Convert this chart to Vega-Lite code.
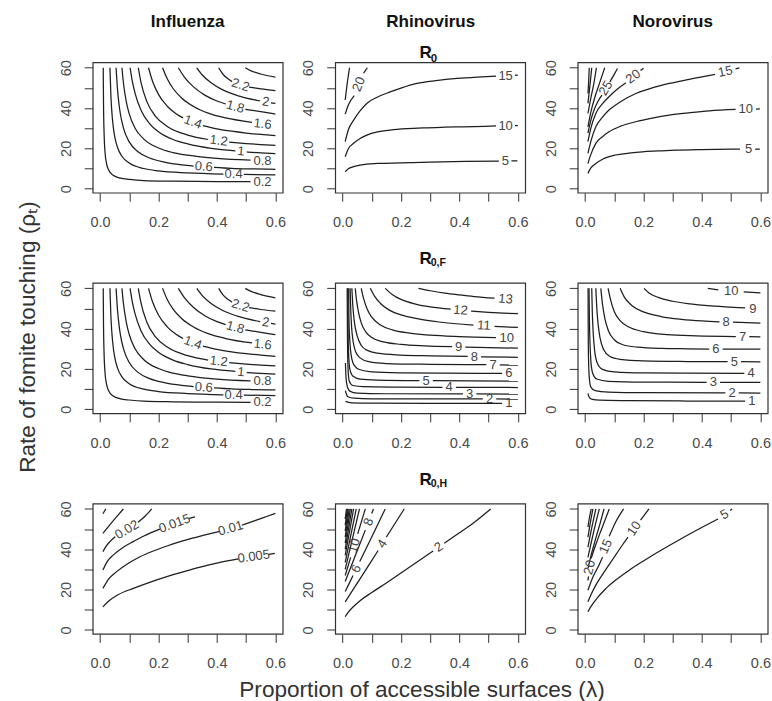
{
"$schema":"https://vega.github.io/schema/vega-lite/v6.json",
"autosize":{"type":"none"},
"padding":{"left":92.7,"top":62.3,"right":679.3,"bottom":638.7},
"background":"white",
"columns":3,
"spacing":{"row":89.6,"column":52.5},
"bounds":"flush",
"config":{
 "view":{"stroke":"#333","strokeWidth":1.2},
 "axis":{"grid":false,"domain":false,"ticks":true,"tickSize":8.5,"tickColor":"#333","tickWidth":1,"labelFont":"Liberation Sans","labelFontSize":14.5,"labelColor":"#4a4a4a","labelFlush":false,"labelOverlap":false,"titleFont":"Liberation Sans","titleFontSize":22.6,"titleFontWeight":"normal","titleColor":"#333"},
 "title":{"font":"Liberation Sans","fontSize":17,"fontWeight":"bold","anchor":"middle","frame":"group","color":"#111"},
 "text":{"font":"Liberation Sans"}
},
"datasets":{
"lines":[
{"p":"fl","s":"02","x":0.011,"y":60},{"p":"fl","s":"02","x":0.012,"y":42.3},{"p":"fl","s":"02","x":0.014,"y":27.2},{"p":"fl","s":"02","x":0.017,"y":18.4},{"p":"fl","s":"02","x":0.022,"y":12.7},{"p":"fl","s":"02","x":0.03,"y":9.1},{"p":"fl","s":"02","x":0.045,"y":6.6},{"p":"fl","s":"02","x":0.07,"y":5.2},{"p":"fl","s":"02","x":0.1,"y":4.6},{"p":"fl","s":"02","x":0.15,"y":4.0},{"p":"fl","s":"02","x":0.25,"y":3.7},{"p":"fl","s":"02","x":0.4,"y":3.5},{"p":"fl","s":"02","x":0.515,"y":3.45},
{"p":"fl","s":"04a","x":0.034,"y":60},{"p":"fl","s":"04a","x":0.037,"y":47},{"p":"fl","s":"04a","x":0.04,"y":39.1},{"p":"fl","s":"04a","x":0.045,"y":31},{"p":"fl","s":"04a","x":0.05,"y":26.1},{"p":"fl","s":"04a","x":0.06,"y":20.4},{"p":"fl","s":"04a","x":0.075,"y":16.1},{"p":"fl","s":"04a","x":0.1,"y":12.7},{"p":"fl","s":"04a","x":0.15,"y":10},{"p":"fl","s":"04a","x":0.2,"y":8.8},{"p":"fl","s":"04a","x":0.3,"y":7.8},{"p":"fl","s":"04a","x":0.422,"y":7.2},
{"p":"fl","s":"04b","x":0.492,"y":7.05},{"p":"fl","s":"04b","x":0.6,"y":6.8},
{"p":"fl","s":"06a","x":0.055,"y":60},{"p":"fl","s":"06a","x":0.06,"y":49},{"p":"fl","s":"06a","x":0.065,"y":41.9},{"p":"fl","s":"06a","x":0.07,"y":36.8},{"p":"fl","s":"06a","x":0.08,"y":30.2},{"p":"fl","s":"06a","x":0.1,"y":23.2},{"p":"fl","s":"06a","x":0.13,"y":18.3},{"p":"fl","s":"06a","x":0.17,"y":15.2},{"p":"fl","s":"06a","x":0.22,"y":13.2},{"p":"fl","s":"06a","x":0.28,"y":11.8},{"p":"fl","s":"06a","x":0.32,"y":11.2},
{"p":"fl","s":"06b","x":0.39,"y":10.6},{"p":"fl","s":"06b","x":0.45,"y":10.1},{"p":"fl","s":"06b","x":0.52,"y":9.8},{"p":"fl","s":"06b","x":0.6,"y":9.6},
{"p":"fl","s":"08","x":0.075,"y":60},{"p":"fl","s":"08","x":0.08,"y":52.7},{"p":"fl","s":"08","x":0.09,"y":43.1},{"p":"fl","s":"08","x":0.1,"y":37.1},{"p":"fl","s":"08","x":0.12,"y":30},{"p":"fl","s":"08","x":0.15,"y":24.6},{"p":"fl","s":"08","x":0.2,"y":20.2},{"p":"fl","s":"08","x":0.25,"y":17.9},{"p":"fl","s":"08","x":0.3,"y":16.6},{"p":"fl","s":"08","x":0.4,"y":15},{"p":"fl","s":"08","x":0.515,"y":14.1},
{"p":"fl","s":"10a","x":0.103,"y":60},{"p":"fl","s":"10a","x":0.11,"y":53.7},{"p":"fl","s":"10a","x":0.12,"y":47.3},{"p":"fl","s":"10a","x":0.14,"y":39},{"p":"fl","s":"10a","x":0.17,"y":32.2},{"p":"fl","s":"10a","x":0.2,"y":28.3},{"p":"fl","s":"10a","x":0.25,"y":24.4},{"p":"fl","s":"10a","x":0.3,"y":22.2},{"p":"fl","s":"10a","x":0.38,"y":20},{"p":"fl","s":"10a","x":0.463,"y":18.8},
{"p":"fl","s":"10b","x":0.502,"y":18.2},{"p":"fl","s":"10b","x":0.55,"y":17.8},{"p":"fl","s":"10b","x":0.6,"y":17.4},
{"p":"fl","s":"12a","x":0.131,"y":60},{"p":"fl","s":"12a","x":0.14,"y":52.9},{"p":"fl","s":"12a","x":0.16,"y":43.3},{"p":"fl","s":"12a","x":0.19,"y":35.9},{"p":"fl","s":"12a","x":0.23,"y":30.9},{"p":"fl","s":"12a","x":0.3,"y":26.6},{"p":"fl","s":"12a","x":0.37,"y":24.4},
{"p":"fl","s":"12b","x":0.442,"y":23.1},{"p":"fl","s":"12b","x":0.5,"y":22.4},{"p":"fl","s":"12b","x":0.55,"y":21.9},{"p":"fl","s":"12b","x":0.6,"y":21.5},
{"p":"fl","s":"14a","x":0.166,"y":60},{"p":"fl","s":"14a","x":0.18,"y":53.2},{"p":"fl","s":"14a","x":0.2,"y":46.8},{"p":"fl","s":"14a","x":0.23,"y":40.9},{"p":"fl","s":"14a","x":0.26,"y":37.2},{"p":"fl","s":"14a","x":0.284,"y":35.1},
{"p":"fl","s":"14b","x":0.352,"y":31.3},{"p":"fl","s":"14b","x":0.4,"y":29.7},{"p":"fl","s":"14b","x":0.45,"y":28.5},{"p":"fl","s":"14b","x":0.5,"y":27.6},{"p":"fl","s":"14b","x":0.55,"y":26.9},{"p":"fl","s":"14b","x":0.6,"y":26.3},
{"p":"fl","s":"16","x":0.214,"y":60},{"p":"fl","s":"16","x":0.23,"y":54.5},{"p":"fl","s":"16","x":0.25,"y":49.7},{"p":"fl","s":"16","x":0.28,"y":44.9},{"p":"fl","s":"16","x":0.32,"y":40.8},{"p":"fl","s":"16","x":0.37,"y":37.5},{"p":"fl","s":"16","x":0.43,"y":35.1},{"p":"fl","s":"16","x":0.52,"y":32.9},
{"p":"fl","s":"18a","x":0.268,"y":60},{"p":"fl","s":"18a","x":0.29,"y":55.1},{"p":"fl","s":"18a","x":0.32,"y":50.5},{"p":"fl","s":"18a","x":0.36,"y":46.3},{"p":"fl","s":"18a","x":0.4,"y":43.5},{"p":"fl","s":"18a","x":0.43,"y":42},
{"p":"fl","s":"18b","x":0.497,"y":39.4},{"p":"fl","s":"18b","x":0.55,"y":38.2},{"p":"fl","s":"18b","x":0.6,"y":37},
{"p":"fl","s":"20a","x":0.331,"y":60},{"p":"fl","s":"20a","x":0.35,"y":56.4},{"p":"fl","s":"20a","x":0.38,"y":52.5},{"p":"fl","s":"20a","x":0.42,"y":49},{"p":"fl","s":"20a","x":0.47,"y":46.2},{"p":"fl","s":"20a","x":0.548,"y":43.5},
{"p":"fl","s":"20b","x":0.585,"y":42.6},{"p":"fl","s":"20b","x":0.6,"y":42.3},
{"p":"fl","s":"22a","x":0.406,"y":60},{"p":"fl","s":"22a","x":0.42,"y":56.9},{"p":"fl","s":"22a","x":0.44,"y":54.3},{"p":"fl","s":"22a","x":0.452,"y":53.1},
{"p":"fl","s":"22b","x":0.51,"y":50.4},{"p":"fl","s":"22b","x":0.55,"y":49.5},{"p":"fl","s":"22b","x":0.6,"y":48.7},
{"p":"fl","s":"24","x":0.497,"y":60},{"p":"fl","s":"24","x":0.515,"y":58.6},{"p":"fl","s":"24","x":0.55,"y":56.9},{"p":"fl","s":"24","x":0.6,"y":55.3},

{"p":"rh0","s":"5a","x":0.0092,"y":8.4},{"p":"rh0","s":"5a","x":0.02,"y":9.9},{"p":"rh0","s":"5a","x":0.038,"y":10.9},{"p":"rh0","s":"5a","x":0.06,"y":11.7},{"p":"rh0","s":"5a","x":0.083,"y":12.2},{"p":"rh0","s":"5a","x":0.12,"y":12.5},{"p":"rh0","s":"5a","x":0.198,"y":12.8},{"p":"rh0","s":"5a","x":0.3,"y":13.2},{"p":"rh0","s":"5a","x":0.42,"y":13.5},{"p":"rh0","s":"5a","x":0.535,"y":13.7},
{"p":"rh0","s":"5b","x":0.578,"y":13.8},{"p":"rh0","s":"5b","x":0.598,"y":13.8},
{"p":"rh0","s":"10a","x":0.0092,"y":15.8},{"p":"rh0","s":"10a","x":0.02,"y":19.8},{"p":"rh0","s":"10a","x":0.038,"y":22.5},{"p":"rh0","s":"10a","x":0.06,"y":24.9},{"p":"rh0","s":"10a","x":0.083,"y":26.6},{"p":"rh0","s":"10a","x":0.12,"y":28.2},{"p":"rh0","s":"10a","x":0.163,"y":29.1},{"p":"rh0","s":"10a","x":0.22,"y":29.8},{"p":"rh0","s":"10a","x":0.277,"y":30.2},{"p":"rh0","s":"10a","x":0.35,"y":30.5},{"p":"rh0","s":"10a","x":0.414,"y":30.7},{"p":"rh0","s":"10a","x":0.525,"y":31.1},
{"p":"rh0","s":"10b","x":0.59,"y":31.3},{"p":"rh0","s":"10b","x":0.6,"y":31.3},
{"p":"rh0","s":"15a","x":0.0092,"y":23.3},{"p":"rh0","s":"15a","x":0.02,"y":29.2},{"p":"rh0","s":"15a","x":0.038,"y":34},{"p":"rh0","s":"15a","x":0.06,"y":38.6},{"p":"rh0","s":"15a","x":0.083,"y":42.3},{"p":"rh0","s":"15a","x":0.12,"y":45.5},{"p":"rh0","s":"15a","x":0.163,"y":48},{"p":"rh0","s":"15a","x":0.2,"y":49.9},{"p":"rh0","s":"15a","x":0.255,"y":52.2},{"p":"rh0","s":"15a","x":0.32,"y":53.6},{"p":"rh0","s":"15a","x":0.392,"y":54.7},{"p":"rh0","s":"15a","x":0.46,"y":55.4},{"p":"rh0","s":"15a","x":0.525,"y":55.9},
{"p":"rh0","s":"15b","x":0.59,"y":56.3},{"p":"rh0","s":"15b","x":0.6,"y":56.3},
{"p":"rh0","s":"20a","x":0.0092,"y":37},{"p":"rh0","s":"20a","x":0.02,"y":41.5},{"p":"rh0","s":"20a","x":0.04,"y":46.2},
{"p":"rh0","s":"20b","x":0.072,"y":57.3},{"p":"rh0","s":"20b","x":0.085,"y":60},
{"p":"rh0","s":"25","x":0.0092,"y":44},{"p":"rh0","s":"25","x":0.015,"y":51},{"p":"rh0","s":"25","x":0.024,"y":60},

{"p":"no0","s":"5a","x":0.01,"y":7.6},{"p":"no0","s":"5a","x":0.02,"y":10.3},{"p":"no0","s":"5a","x":0.037,"y":12.5},{"p":"no0","s":"5a","x":0.06,"y":14.6},{"p":"no0","s":"5a","x":0.105,"y":16.7},{"p":"no0","s":"5a","x":0.15,"y":17.6},{"p":"no0","s":"5a","x":0.196,"y":18.3},{"p":"no0","s":"5a","x":0.25,"y":18.7},{"p":"no0","s":"5a","x":0.31,"y":19.1},{"p":"no0","s":"5a","x":0.4,"y":19.4},{"p":"no0","s":"5a","x":0.53,"y":19.6},
{"p":"no0","s":"5b","x":0.582,"y":19.6},{"p":"no0","s":"5b","x":0.598,"y":19.6},
{"p":"no0","s":"10a","x":0.01,"y":12.5},{"p":"no0","s":"10a","x":0.02,"y":17},{"p":"no0","s":"10a","x":0.037,"y":22.5},{"p":"no0","s":"10a","x":0.06,"y":25.8},{"p":"no0","s":"10a","x":0.082,"y":28.2},{"p":"no0","s":"10a","x":0.12,"y":30.9},{"p":"no0","s":"10a","x":0.174,"y":33.2},{"p":"no0","s":"10a","x":0.23,"y":35},{"p":"no0","s":"10a","x":0.288,"y":36.5},{"p":"no0","s":"10a","x":0.36,"y":37.7},{"p":"no0","s":"10a","x":0.425,"y":38.6},{"p":"no0","s":"10a","x":0.515,"y":39.3},
{"p":"no0","s":"10b","x":0.585,"y":39.5},{"p":"no0","s":"10b","x":0.598,"y":39.6},
{"p":"no0","s":"15a","x":0.01,"y":17.5},{"p":"no0","s":"15a","x":0.02,"y":23.5},{"p":"no0","s":"15a","x":0.037,"y":30.7},{"p":"no0","s":"15a","x":0.06,"y":35.5},{"p":"no0","s":"15a","x":0.082,"y":39},{"p":"no0","s":"15a","x":0.12,"y":43},{"p":"no0","s":"15a","x":0.174,"y":47.2},{"p":"no0","s":"15a","x":0.23,"y":50},{"p":"no0","s":"15a","x":0.288,"y":52.2},{"p":"no0","s":"15a","x":0.36,"y":54.4},{"p":"no0","s":"15a","x":0.445,"y":56.7},
{"p":"no0","s":"15b","x":0.515,"y":59.4},{"p":"no0","s":"15b","x":0.528,"y":59.9},
{"p":"no0","s":"20a","x":0.01,"y":23.3},{"p":"no0","s":"20a","x":0.02,"y":30},{"p":"no0","s":"20a","x":0.037,"y":37.3},{"p":"no0","s":"20a","x":0.06,"y":42.2},{"p":"no0","s":"20a","x":0.082,"y":45.6},{"p":"no0","s":"20a","x":0.11,"y":49.3},{"p":"no0","s":"20a","x":0.14,"y":52.5},
{"p":"no0","s":"20b","x":0.19,"y":58.6},{"p":"no0","s":"20b","x":0.2,"y":59.8},
{"p":"no0","s":"25a","x":0.01,"y":27.6},{"p":"no0","s":"25a","x":0.02,"y":34},{"p":"no0","s":"25a","x":0.031,"y":39},{"p":"no0","s":"25a","x":0.045,"y":43.5},{"p":"no0","s":"25a","x":0.058,"y":46.4},
{"p":"no0","s":"25b","x":0.085,"y":53},{"p":"no0","s":"25b","x":0.1,"y":56.7},{"p":"no0","s":"25b","x":0.111,"y":59.6},
{"p":"no0","s":"30","x":0.01,"y":30.7},{"p":"no0","s":"30","x":0.02,"y":38},{"p":"no0","s":"30","x":0.035,"y":46},{"p":"no0","s":"30","x":0.05,"y":52.5},{"p":"no0","s":"30","x":0.0675,"y":60},
{"p":"no0","s":"35","x":0.01,"y":37.3},{"p":"no0","s":"35","x":0.02,"y":45},{"p":"no0","s":"35","x":0.03,"y":52},{"p":"no0","s":"35","x":0.039,"y":60},
{"p":"no0","s":"40","x":0.01,"y":42.3},{"p":"no0","s":"40","x":0.016,"y":50},{"p":"no0","s":"40","x":0.023,"y":60},
{"p":"no0","s":"45","x":0.01,"y":47.2},{"p":"no0","s":"45","x":0.0125,"y":53},{"p":"no0","s":"45","x":0.0145,"y":60},

{"p":"rhF","s":"13","x":0.26,"y":60},{"p":"rhF","s":"13","x":0.3,"y":58.8},{"p":"rhF","s":"13","x":0.35,"y":57.6},{"p":"rhF","s":"13","x":0.4,"y":56.7},{"p":"rhF","s":"13","x":0.45,"y":55.9},{"p":"rhF","s":"13","x":0.52,"y":55.1},
{"p":"rhF","s":"12a","x":0.146,"y":60},{"p":"rhF","s":"12a","x":0.17,"y":57},{"p":"rhF","s":"12a","x":0.2,"y":54.5},{"p":"rhF","s":"12a","x":0.25,"y":52.2},{"p":"rhF","s":"12a","x":0.3,"y":50.8},{"p":"rhF","s":"12a","x":0.37,"y":49.7},
{"p":"rhF","s":"12b","x":0.44,"y":48.7},{"p":"rhF","s":"12b","x":0.5,"y":48.1},{"p":"rhF","s":"12b","x":0.55,"y":47.7},{"p":"rhF","s":"12b","x":0.6,"y":47.4},
{"p":"rhF","s":"11a","x":0.095,"y":60},{"p":"rhF","s":"11a","x":0.11,"y":56},{"p":"rhF","s":"11a","x":0.13,"y":52.5},{"p":"rhF","s":"11a","x":0.16,"y":49.2},{"p":"rhF","s":"11a","x":0.2,"y":46.8},{"p":"rhF","s":"11a","x":0.26,"y":44.8},{"p":"rhF","s":"11a","x":0.33,"y":43.3},{"p":"rhF","s":"11a","x":0.448,"y":41.8},
{"p":"rhF","s":"11b","x":0.52,"y":41.1},{"p":"rhF","s":"11b","x":0.6,"y":40.6},
{"p":"rhF","s":"10","x":0.064,"y":60},{"p":"rhF","s":"10","x":0.072,"y":55},{"p":"rhF","s":"10","x":0.085,"y":49.5},{"p":"rhF","s":"10","x":0.1,"y":45.7},{"p":"rhF","s":"10","x":0.13,"y":41.8},{"p":"rhF","s":"10","x":0.17,"y":39.4},{"p":"rhF","s":"10","x":0.23,"y":37.8},{"p":"rhF","s":"10","x":0.3,"y":36.8},{"p":"rhF","s":"10","x":0.4,"y":36.1},{"p":"rhF","s":"10","x":0.525,"y":35.6},
{"p":"rhF","s":"9a","x":0.0435,"y":60},{"p":"rhF","s":"9a","x":0.048,"y":54},{"p":"rhF","s":"9a","x":0.055,"y":48},{"p":"rhF","s":"9a","x":0.065,"y":42.5},{"p":"rhF","s":"9a","x":0.08,"y":38.3},{"p":"rhF","s":"9a","x":0.1,"y":35.6},{"p":"rhF","s":"9a","x":0.14,"y":33.4},{"p":"rhF","s":"9a","x":0.2,"y":32.2},{"p":"rhF","s":"9a","x":0.28,"y":31.5},{"p":"rhF","s":"9a","x":0.375,"y":31.1},
{"p":"rhF","s":"9b","x":0.42,"y":30.9},{"p":"rhF","s":"9b","x":0.5,"y":30.6},{"p":"rhF","s":"9b","x":0.6,"y":30.3},
{"p":"rhF","s":"8a","x":0.032,"y":60},{"p":"rhF","s":"8a","x":0.035,"y":52},{"p":"rhF","s":"8a","x":0.04,"y":44},{"p":"rhF","s":"8a","x":0.05,"y":36.5},{"p":"rhF","s":"8a","x":0.065,"y":31.5},{"p":"rhF","s":"8a","x":0.085,"y":29.2},{"p":"rhF","s":"8a","x":0.12,"y":27.8},{"p":"rhF","s":"8a","x":0.2,"y":26.9},{"p":"rhF","s":"8a","x":0.3,"y":26.5},{"p":"rhF","s":"8a","x":0.428,"y":26.2},
{"p":"rhF","s":"8b","x":0.474,"y":26},{"p":"rhF","s":"8b","x":0.6,"y":25.8},
{"p":"rhF","s":"7a","x":0.026,"y":60},{"p":"rhF","s":"7a","x":0.028,"y":50},{"p":"rhF","s":"7a","x":0.031,"y":41},{"p":"rhF","s":"7a","x":0.036,"y":34},{"p":"rhF","s":"7a","x":0.045,"y":28.5},{"p":"rhF","s":"7a","x":0.06,"y":25.5},{"p":"rhF","s":"7a","x":0.09,"y":23.6},{"p":"rhF","s":"7a","x":0.15,"y":22.7},{"p":"rhF","s":"7a","x":0.3,"y":22.3},{"p":"rhF","s":"7a","x":0.492,"y":22.1},
{"p":"rhF","s":"7b","x":0.538,"y":22},{"p":"rhF","s":"7b","x":0.6,"y":21.9},
{"p":"rhF","s":"6","x":0.021,"y":60},{"p":"rhF","s":"6","x":0.022,"y":45},{"p":"rhF","s":"6","x":0.025,"y":34},{"p":"rhF","s":"6","x":0.03,"y":26.5},{"p":"rhF","s":"6","x":0.04,"y":21.8},{"p":"rhF","s":"6","x":0.06,"y":19.6},{"p":"rhF","s":"6","x":0.1,"y":18.6},{"p":"rhF","s":"6","x":0.2,"y":18.1},{"p":"rhF","s":"6","x":0.35,"y":17.9},{"p":"rhF","s":"6","x":0.546,"y":17.8},
{"p":"rhF","s":"5a","x":0.018,"y":60},{"p":"rhF","s":"5a","x":0.019,"y":40},{"p":"rhF","s":"5a","x":0.021,"y":27},{"p":"rhF","s":"5a","x":0.025,"y":20},{"p":"rhF","s":"5a","x":0.035,"y":16.5},{"p":"rhF","s":"5a","x":0.06,"y":15},{"p":"rhF","s":"5a","x":0.12,"y":14.5},{"p":"rhF","s":"5a","x":0.263,"y":14.2},
{"p":"rhF","s":"5b","x":0.309,"y":14.2},{"p":"rhF","s":"5b","x":0.6,"y":14},
{"p":"rhF","s":"4a","x":0.016,"y":60},{"p":"rhF","s":"4a","x":0.017,"y":35},{"p":"rhF","s":"4a","x":0.019,"y":20},{"p":"rhF","s":"4a","x":0.023,"y":14},{"p":"rhF","s":"4a","x":0.035,"y":11.8},{"p":"rhF","s":"4a","x":0.07,"y":11.2},{"p":"rhF","s":"4a","x":0.2,"y":11},{"p":"rhF","s":"4a","x":0.342,"y":10.9},
{"p":"rhF","s":"4b","x":0.388,"y":10.9},{"p":"rhF","s":"4b","x":0.6,"y":10.8},
{"p":"rhF","s":"3a","x":0.01,"y":23},{"p":"rhF","s":"3a","x":0.012,"y":16},{"p":"rhF","s":"3a","x":0.016,"y":11.5},{"p":"rhF","s":"3a","x":0.025,"y":9},{"p":"rhF","s":"3a","x":0.05,"y":8},{"p":"rhF","s":"3a","x":0.15,"y":7.7},{"p":"rhF","s":"3a","x":0.412,"y":7.6},
{"p":"rhF","s":"3b","x":0.458,"y":7.6},{"p":"rhF","s":"3b","x":0.6,"y":7.5},
{"p":"rhF","s":"2a","x":0.01,"y":9.3},{"p":"rhF","s":"2a","x":0.014,"y":7.2},{"p":"rhF","s":"2a","x":0.02,"y":6.1},{"p":"rhF","s":"2a","x":0.04,"y":5.5},{"p":"rhF","s":"2a","x":0.1,"y":5.2},{"p":"rhF","s":"2a","x":0.3,"y":5.1},{"p":"rhF","s":"2a","x":0.48,"y":5.1},
{"p":"rhF","s":"2b","x":0.526,"y":5.1},{"p":"rhF","s":"2b","x":0.6,"y":5},
{"p":"rhF","s":"1","x":0.01,"y":3.9},{"p":"rhF","s":"1","x":0.03,"y":3.2},{"p":"rhF","s":"1","x":0.1,"y":3},{"p":"rhF","s":"1","x":0.3,"y":2.95},{"p":"rhF","s":"1","x":0.546,"y":2.9},

{"p":"noF","s":"10a","x":0.42,"y":60},{"p":"noF","s":"10a","x":0.456,"y":59.2},
{"p":"noF","s":"10b","x":0.543,"y":58.3},{"p":"noF","s":"10b","x":0.6,"y":57.8},
{"p":"noF","s":"9","x":0.202,"y":60},{"p":"noF","s":"9","x":0.22,"y":57.6},{"p":"noF","s":"9","x":0.25,"y":55.5},{"p":"noF","s":"9","x":0.3,"y":53.6},{"p":"noF","s":"9","x":0.36,"y":52.3},{"p":"noF","s":"9","x":0.42,"y":51.4},{"p":"noF","s":"9","x":0.48,"y":50.8},{"p":"noF","s":"9","x":0.548,"y":50.3},
{"p":"noF","s":"8a","x":0.12,"y":60},{"p":"noF","s":"8a","x":0.135,"y":55.5},{"p":"noF","s":"8a","x":0.16,"y":51.5},{"p":"noF","s":"8a","x":0.2,"y":48.3},{"p":"noF","s":"8a","x":0.26,"y":46},{"p":"noF","s":"8a","x":0.33,"y":44.6},{"p":"noF","s":"8a","x":0.4,"y":43.8},{"p":"noF","s":"8a","x":0.46,"y":43.4},
{"p":"noF","s":"8b","x":0.506,"y":43.2},{"p":"noF","s":"8b","x":0.6,"y":42.8},
{"p":"noF","s":"7a","x":0.079,"y":60},{"p":"noF","s":"7a","x":0.088,"y":54},{"p":"noF","s":"7a","x":0.1,"y":48.5},{"p":"noF","s":"7a","x":0.12,"y":44},{"p":"noF","s":"7a","x":0.15,"y":40.8},{"p":"noF","s":"7a","x":0.2,"y":38.5},{"p":"noF","s":"7a","x":0.28,"y":37},{"p":"noF","s":"7a","x":0.38,"y":36.4},{"p":"noF","s":"7a","x":0.516,"y":36.1},
{"p":"noF","s":"7b","x":0.562,"y":36},{"p":"noF","s":"7b","x":0.6,"y":35.9},
{"p":"noF","s":"6a","x":0.054,"y":60},{"p":"noF","s":"6a","x":0.06,"y":52},{"p":"noF","s":"6a","x":0.068,"y":45},{"p":"noF","s":"6a","x":0.08,"y":39},{"p":"noF","s":"6a","x":0.1,"y":34.5},{"p":"noF","s":"6a","x":0.13,"y":32},{"p":"noF","s":"6a","x":0.18,"y":30.8},{"p":"noF","s":"6a","x":0.26,"y":30.2},{"p":"noF","s":"6a","x":0.35,"y":30},{"p":"noF","s":"6a","x":0.425,"y":29.9},
{"p":"noF","s":"6b","x":0.471,"y":29.9},{"p":"noF","s":"6b","x":0.6,"y":29.8},
{"p":"noF","s":"5a","x":0.037,"y":60},{"p":"noF","s":"5a","x":0.04,"y":51},{"p":"noF","s":"5a","x":0.045,"y":42},{"p":"noF","s":"5a","x":0.052,"y":35},{"p":"noF","s":"5a","x":0.064,"y":29.5},{"p":"noF","s":"5a","x":0.085,"y":26.2},{"p":"noF","s":"5a","x":0.12,"y":24.8},{"p":"noF","s":"5a","x":0.2,"y":24},{"p":"noF","s":"5a","x":0.35,"y":23.7},{"p":"noF","s":"5a","x":0.488,"y":23.6},
{"p":"noF","s":"5b","x":0.534,"y":23.6},{"p":"noF","s":"5b","x":0.6,"y":23.5},
{"p":"noF","s":"4","x":0.023,"y":60},{"p":"noF","s":"4","x":0.025,"y":48},{"p":"noF","s":"4","x":0.028,"y":38},{"p":"noF","s":"4","x":0.033,"y":29},{"p":"noF","s":"4","x":0.042,"y":23},{"p":"noF","s":"4","x":0.06,"y":19.8},{"p":"noF","s":"4","x":0.1,"y":18.5},{"p":"noF","s":"4","x":0.2,"y":18},{"p":"noF","s":"4","x":0.35,"y":17.9},{"p":"noF","s":"4","x":0.545,"y":17.8},
{"p":"noF","s":"3a","x":0.0137,"y":60},{"p":"noF","s":"3a","x":0.015,"y":45},{"p":"noF","s":"3a","x":0.017,"y":33},{"p":"noF","s":"3a","x":0.02,"y":24},{"p":"noF","s":"3a","x":0.026,"y":18},{"p":"noF","s":"3a","x":0.04,"y":15},{"p":"noF","s":"3a","x":0.08,"y":13.9},{"p":"noF","s":"3a","x":0.2,"y":13.5},{"p":"noF","s":"3a","x":0.416,"y":13.4},
{"p":"noF","s":"3b","x":0.462,"y":13.4},{"p":"noF","s":"3b","x":0.6,"y":13.3},
{"p":"noF","s":"2a","x":0.0105,"y":60},{"p":"noF","s":"2a","x":0.011,"y":40},{"p":"noF","s":"2a","x":0.012,"y":25},{"p":"noF","s":"2a","x":0.015,"y":15},{"p":"noF","s":"2a","x":0.02,"y":11},{"p":"noF","s":"2a","x":0.035,"y":9.2},{"p":"noF","s":"2a","x":0.08,"y":8.5},{"p":"noF","s":"2a","x":0.2,"y":8.2},{"p":"noF","s":"2a","x":0.48,"y":8.1},
{"p":"noF","s":"2b","x":0.526,"y":8.1},{"p":"noF","s":"2b","x":0.6,"y":8},
{"p":"noF","s":"1","x":0.01,"y":7.9},{"p":"noF","s":"1","x":0.015,"y":5.8},{"p":"noF","s":"1","x":0.025,"y":4.9},{"p":"noF","s":"1","x":0.05,"y":4.5},{"p":"noF","s":"1","x":0.15,"y":4.3},{"p":"noF","s":"1","x":0.35,"y":4.1},{"p":"noF","s":"1","x":0.548,"y":4.0},

{"p":"flH","s":"005a","x":0.01,"y":11.4},{"p":"flH","s":"005a","x":0.03,"y":14.3},{"p":"flH","s":"005a","x":0.06,"y":17.3},{"p":"flH","s":"005a","x":0.114,"y":20.6},{"p":"flH","s":"005a","x":0.17,"y":23.6},{"p":"flH","s":"005a","x":0.229,"y":26.4},{"p":"flH","s":"005a","x":0.29,"y":29},{"p":"flH","s":"005a","x":0.343,"y":31.1},{"p":"flH","s":"005a","x":0.4,"y":33.1},{"p":"flH","s":"005a","x":0.474,"y":35.2},
{"p":"flH","s":"005b","x":0.578,"y":37.5},{"p":"flH","s":"005b","x":0.598,"y":37.9},
{"p":"flH","s":"01a","x":0.01,"y":20.6},{"p":"flH","s":"01a","x":0.03,"y":25.3},{"p":"flH","s":"01a","x":0.057,"y":28.9},{"p":"flH","s":"01a","x":0.1,"y":33.3},{"p":"flH","s":"01a","x":0.137,"y":36.3},{"p":"flH","s":"01a","x":0.18,"y":39},{"p":"flH","s":"01a","x":0.229,"y":41.6},{"p":"flH","s":"01a","x":0.28,"y":44},{"p":"flH","s":"01a","x":0.32,"y":45.6},{"p":"flH","s":"01a","x":0.38,"y":47.9},{"p":"flH","s":"01a","x":0.41,"y":48.9},
{"p":"flH","s":"01b","x":0.485,"y":51.9},{"p":"flH","s":"01b","x":0.53,"y":54.2},{"p":"flH","s":"01b","x":0.565,"y":56},{"p":"flH","s":"01b","x":0.6,"y":57.8},
{"p":"flH","s":"015a","x":0.01,"y":29.7},{"p":"flH","s":"015a","x":0.025,"y":34},{"p":"flH","s":"015a","x":0.046,"y":37.2},{"p":"flH","s":"015a","x":0.08,"y":41},{"p":"flH","s":"015a","x":0.114,"y":43.8},{"p":"flH","s":"015a","x":0.15,"y":46.6},{"p":"flH","s":"015a","x":0.205,"y":50},
{"p":"flH","s":"015b","x":0.305,"y":55.3},{"p":"flH","s":"015b","x":0.325,"y":56.1},
{"p":"flH","s":"02a","x":0.01,"y":38.8},{"p":"flH","s":"02a","x":0.02,"y":41.3},{"p":"flH","s":"02a","x":0.034,"y":43.8},{"p":"flH","s":"02a","x":0.052,"y":46.2},
{"p":"flH","s":"02b","x":0.13,"y":53.4},{"p":"flH","s":"02b","x":0.155,"y":56.5},{"p":"flH","s":"02b","x":0.177,"y":60},
{"p":"flH","s":"025","x":0.01,"y":47.9},{"p":"flH","s":"025","x":0.03,"y":51.5},{"p":"flH","s":"025","x":0.055,"y":55.8},{"p":"flH","s":"025","x":0.08,"y":60},
{"p":"flH","s":"03","x":0.01,"y":57.6},{"p":"flH","s":"03","x":0.02,"y":60},

{"p":"rhH","s":"2a","x":0.0092,"y":6.5},{"p":"rhH","s":"2a","x":0.02,"y":8.8},{"p":"rhH","s":"2a","x":0.035,"y":11.2},{"p":"rhH","s":"2a","x":0.06,"y":14.5},{"p":"rhH","s":"2a","x":0.1,"y":18.5},{"p":"rhH","s":"2a","x":0.15,"y":23.3},{"p":"rhH","s":"2a","x":0.2,"y":28.2},{"p":"rhH","s":"2a","x":0.25,"y":33.2},{"p":"rhH","s":"2a","x":0.31,"y":39.1},
{"p":"rhH","s":"2b","x":0.348,"y":43},{"p":"rhH","s":"2b","x":0.4,"y":48.2},{"p":"rhH","s":"2b","x":0.45,"y":53.3},{"p":"rhH","s":"2b","x":0.507,"y":60},
{"p":"rhH","s":"4a","x":0.0092,"y":13.9},{"p":"rhH","s":"4a","x":0.03,"y":18.6},{"p":"rhH","s":"4a","x":0.06,"y":25.3},{"p":"rhH","s":"4a","x":0.09,"y":32.1},{"p":"rhH","s":"4a","x":0.122,"y":39.4},
{"p":"rhH","s":"4b","x":0.15,"y":46},{"p":"rhH","s":"4b","x":0.18,"y":52.9},{"p":"rhH","s":"4b","x":0.211,"y":60},
{"p":"rhH","s":"6a","x":0.0092,"y":19},{"p":"rhH","s":"6a","x":0.02,"y":22.2},{"p":"rhH","s":"6a","x":0.036,"y":27},
{"p":"rhH","s":"6b","x":0.059,"y":33.9},{"p":"rhH","s":"6b","x":0.1,"y":46.1},{"p":"rhH","s":"6b","x":0.146,"y":60},
{"p":"rhH","s":"8a","x":0.0092,"y":24},{"p":"rhH","s":"8a","x":0.04,"y":35.4},{"p":"rhH","s":"8a","x":0.078,"y":49.5},
{"p":"rhH","s":"8b","x":0.1,"y":57.7},{"p":"rhH","s":"8b","x":0.106,"y":60},
{"p":"rhH","s":"10a","x":0.0092,"y":27},{"p":"rhH","s":"10a","x":0.028,"y":36},
{"p":"rhH","s":"10b","x":0.052,"y":47.6},{"p":"rhH","s":"10b","x":0.078,"y":60},
{"p":"rhH","s":"12","x":0.0092,"y":30},{"p":"rhH","s":"12","x":0.058,"y":60},
{"p":"rhH","s":"14","x":0.0092,"y":33.5},{"p":"rhH","s":"14","x":0.047,"y":60},
{"p":"rhH","s":"16","x":0.0092,"y":37},{"p":"rhH","s":"16","x":0.038,"y":60},
{"p":"rhH","s":"18","x":0.0092,"y":40},{"p":"rhH","s":"18","x":0.032,"y":60},
{"p":"rhH","s":"20","x":0.0092,"y":43},{"p":"rhH","s":"20","x":0.027,"y":60},
{"p":"rhH","s":"22","x":0.0092,"y":46},{"p":"rhH","s":"22","x":0.023,"y":60},
{"p":"rhH","s":"24","x":0.0092,"y":49},{"p":"rhH","s":"24","x":0.0195,"y":60},
{"p":"rhH","s":"26","x":0.0092,"y":52},{"p":"rhH","s":"26","x":0.0165,"y":60},
{"p":"rhH","s":"28","x":0.0092,"y":55},{"p":"rhH","s":"28","x":0.0135,"y":60},

{"p":"noH","s":"5a","x":0.01,"y":9},{"p":"noH","s":"5a","x":0.02,"y":11.5},{"p":"noH","s":"5a","x":0.04,"y":15.5},{"p":"noH","s":"5a","x":0.07,"y":20.3},{"p":"noH","s":"5a","x":0.105,"y":24.7},{"p":"noH","s":"5a","x":0.15,"y":29.5},{"p":"noH","s":"5a","x":0.2,"y":34.2},{"p":"noH","s":"5a","x":0.26,"y":39.5},{"p":"noH","s":"5a","x":0.32,"y":44.5},{"p":"noH","s":"5a","x":0.38,"y":49.3},{"p":"noH","s":"5a","x":0.455,"y":55},
{"p":"noH","s":"5b","x":0.497,"y":59.2},{"p":"noH","s":"5b","x":0.503,"y":60},
{"p":"noH","s":"10a","x":0.01,"y":13.9},{"p":"noH","s":"10a","x":0.02,"y":17.3},{"p":"noH","s":"10a","x":0.037,"y":22.2},{"p":"noH","s":"10a","x":0.06,"y":27.5},{"p":"noH","s":"10a","x":0.082,"y":32.2},{"p":"noH","s":"10a","x":0.105,"y":37.2},{"p":"noH","s":"10a","x":0.128,"y":42.1},{"p":"noH","s":"10a","x":0.147,"y":46},
{"p":"noH","s":"10b","x":0.19,"y":54.5},{"p":"noH","s":"10b","x":0.205,"y":57.3},{"p":"noH","s":"10b","x":0.219,"y":60},
{"p":"noH","s":"15a","x":0.01,"y":19.7},{"p":"noH","s":"15a","x":0.025,"y":25.5},{"p":"noH","s":"15a","x":0.048,"y":32.2},{"p":"noH","s":"15a","x":0.06,"y":36},
{"p":"noH","s":"15b","x":0.083,"y":46.5},{"p":"noH","s":"15b","x":0.105,"y":53.5},{"p":"noH","s":"15b","x":0.132,"y":60},
{"p":"noH","s":"20a","x":0.01,"y":24.5},{"p":"noH","s":"20a","x":0.012,"y":26.5},
{"p":"noH","s":"20b","x":0.021,"y":35.5},{"p":"noH","s":"20b","x":0.035,"y":41.5},{"p":"noH","s":"20b","x":0.05,"y":47.5},{"p":"noH","s":"20b","x":0.066,"y":53.5},{"p":"noH","s":"20b","x":0.083,"y":60},
{"p":"noH","s":"25","x":0.01,"y":30.5},{"p":"noH","s":"25","x":0.02,"y":36.5},{"p":"noH","s":"25","x":0.035,"y":44.5},{"p":"noH","s":"25","x":0.05,"y":52},{"p":"noH","s":"25","x":0.065,"y":60},
{"p":"noH","s":"30","x":0.01,"y":36},{"p":"noH","s":"30","x":0.02,"y":42.5},{"p":"noH","s":"30","x":0.035,"y":52},{"p":"noH","s":"30","x":0.049,"y":60},
{"p":"noH","s":"35","x":0.01,"y":41},{"p":"noH","s":"35","x":0.02,"y":48.5},{"p":"noH","s":"35","x":0.037,"y":60},
{"p":"noH","s":"40","x":0.01,"y":46},{"p":"noH","s":"40","x":0.018,"y":53},{"p":"noH","s":"40","x":0.027,"y":60},
{"p":"noH","s":"45","x":0.01,"y":51},{"p":"noH","s":"45","x":0.015,"y":55.5},{"p":"noH","s":"45","x":0.021,"y":60}
],
"labels":[
{"p":"fl","lab":"0.2","x":0.556,"y":3.4},{"p":"fl","lab":"0.4","x":0.457,"y":7.1},{"p":"fl","lab":"0.6","x":0.355,"y":10.9},{"p":"fl","lab":"0.8","x":0.556,"y":13.8},{"p":"fl","lab":"1","x":0.482,"y":18.5},{"p":"fl","lab":"1.2","x":0.406,"y":23.8},{"p":"fl","lab":"1.4","x":0.318,"y":33},{"p":"fl","lab":"1.6","x":0.556,"y":32.1},{"p":"fl","lab":"1.8","x":0.463,"y":40.6},{"p":"fl","lab":"2","x":0.567,"y":43.1},{"p":"fl","lab":"2.2","x":0.481,"y":51.4},
{"p":"rh0","lab":"5","x":0.557,"y":13.7},{"p":"rh0","lab":"10","x":0.558,"y":31.2},{"p":"rh0","lab":"15","x":0.558,"y":56.1},{"p":"rh0","lab":"20","x":0.056,"y":51.8},
{"p":"no0","lab":"5","x":0.56,"y":19.5},{"p":"no0","lab":"10","x":0.55,"y":39.3},{"p":"no0","lab":"15","x":0.48,"y":58.1},{"p":"no0","lab":"20","x":0.165,"y":55.6},{"p":"no0","lab":"25","x":0.071,"y":49.8},
{"p":"rhF","lab":"13","x":0.558,"y":54.7},{"p":"rhF","lab":"12","x":0.404,"y":49.1},{"p":"rhF","lab":"11","x":0.484,"y":41.5},{"p":"rhF","lab":"10","x":0.562,"y":35.5},{"p":"rhF","lab":"9","x":0.397,"y":31},{"p":"rhF","lab":"8","x":0.451,"y":26.1},{"p":"rhF","lab":"7","x":0.515,"y":22},{"p":"rhF","lab":"6","x":0.569,"y":17.8},{"p":"rhF","lab":"5","x":0.286,"y":14.2},{"p":"rhF","lab":"4","x":0.365,"y":10.9},{"p":"rhF","lab":"3","x":0.435,"y":7.6},{"p":"rhF","lab":"2","x":0.503,"y":5.1},{"p":"rhF","lab":"1","x":0.569,"y":2.9},
{"p":"noF","lab":"10","x":0.5,"y":58.5},{"p":"noF","lab":"9","x":0.574,"y":49.9},{"p":"noF","lab":"8","x":0.483,"y":43.3},{"p":"noF","lab":"7","x":0.539,"y":36},{"p":"noF","lab":"6","x":0.448,"y":29.9},{"p":"noF","lab":"5","x":0.511,"y":23.6},{"p":"noF","lab":"4","x":0.568,"y":17.8},{"p":"noF","lab":"3","x":0.439,"y":13.4},{"p":"noF","lab":"2","x":0.503,"y":8.1},{"p":"noF","lab":"1","x":0.571,"y":4.0},
{"p":"flH","lab":"0.005","x":0.526,"y":36.4},{"p":"flH","lab":"0.01","x":0.447,"y":50.3},{"p":"flH","lab":"0.015","x":0.255,"y":52.7},{"p":"flH","lab":"0.02","x":0.092,"y":49.7},
{"p":"rhH","lab":"2","x":0.329,"y":41.1},{"p":"rhH","lab":"4","x":0.136,"y":42.7},{"p":"rhH","lab":"6","x":0.047,"y":30.3},{"p":"rhH","lab":"8","x":0.089,"y":53.6},{"p":"rhH","lab":"10","x":0.04,"y":41.8},
{"p":"noH","lab":"5","x":0.477,"y":57.2},{"p":"noH","lab":"10","x":0.168,"y":50.3},{"p":"noH","lab":"15","x":0.071,"y":41.3},{"p":"noH","lab":"20","x":0.016,"y":31}
]
},
"concat":[
{"width":190,"height":130.4,
 "title":{"text":"Influenza","offset":28.7},
 "encoding":{
  "x":{"field":"x","type":"quantitative","scale":{"domain":[-0.025,0.625],"nice":false,"zero":false},"axis":{"values":[0,0.1,0.2,0.3,0.4,0.5,0.6],"labelExpr":"round(datum.value*10)%2==0 ? format(datum.value,'.1f') : ''","title":null,"labelBaseline":"top","labelPadding":14.2,"labelAngle":0,"labelAlign":"center"}},
  "y":{"field":"y","type":"quantitative","scale":{"domain":[-2.0,62.7],"nice":false,"zero":false},"axis":{"values":[0,10,20,30,40,50,60],"labelExpr":"datum.value%20==0 ? datum.label : ''","title":null,"labelAngle":270,"labelAlign":"center","labelBaseline":"alphabetic","labelPadding":14}}},
 "layer":[
  {"data":{"name":"lines"},"transform":[{"filter":"datum.p=='fl'"}],"mark":{"type":"line","interpolate":"monotone","color":"#1e1e1e","strokeWidth":1.25},"encoding":{"detail":{"field":"s"},"order":{"value":null}}},
  {"data":{"name":"labels"},"transform":[{"filter":"datum.p=='fl'"}],"mark":{"type":"text","fontSize":13,"color":"#444","align":"center","baseline":"middle"},"encoding":{"text":{"field":"lab"},"angle":{"condition":[{"test":"datum.lab=='2.2'","value":18},{"test":"datum.lab=='1.8'","value":15},{"test":"datum.lab=='1.4'","value":20},{"test":"datum.lab=='2'","value":9},{"test":"datum.lab=='1.6'","value":6},{"test":"datum.lab=='1.2'","value":7},{"test":"datum.lab=='1'","value":5},{"test":"datum.lab=='0.6'","value":4}],"value":0}}}
 ]},
{"width":190,"height":130.4,
 "resolve":{"scale":{"x":"independent"},"axis":{"x":"independent"}},
 "encoding":{
  "y":{"field":"y","type":"quantitative","scale":{"domain":[-2.0,62.7],"nice":false,"zero":false},"axis":{"values":[0,10,20,30,40,50,60],"labelExpr":"datum.value%20==0 ? datum.label : ''","title":"R","titleAngle":0,"titleX":83.8,"titleY":-4.6,"titleAlign":"left","titleBaseline":"alphabetic","titleFontSize":17,"titleFontWeight":"bold","titleColor":"#111","labelAngle":270,"labelAlign":"center","labelBaseline":"alphabetic","labelPadding":14}}},
 "layer":[
  {"data":{"name":"lines"},"transform":[{"filter":"datum.p=='rh0'"}],"mark":{"type":"line","interpolate":"monotone","color":"#1e1e1e","strokeWidth":1.25},"encoding":{
   "x":{"field":"x","type":"quantitative","scale":{"domain":[-0.025,0.625],"nice":false,"zero":false},"axis":{"orient":"bottom","values":[0,0.1,0.2,0.3,0.4,0.5,0.6],"labelExpr":"round(datum.value*10)%2==0 ? format(datum.value,'.1f') : ''","title":"Rhinovirus","titleX":95,"titleY":-166.2,"titleAlign":"center","titleBaseline":"alphabetic","titleFontSize":17,"titleFontWeight":"bold","titleColor":"#111","labelBaseline":"top","labelPadding":14.2,"labelAngle":0,"labelAlign":"center"}},
   "detail":{"field":"s"},"order":{"value":null}}},
  {"data":{"name":"labels"},"transform":[{"filter":"datum.p=='rh0'"}],"mark":{"type":"text","fontSize":13,"color":"#444","align":"center","baseline":"middle"},"encoding":{
   "x":{"field":"x","type":"quantitative","scale":{"domain":[-0.025,0.625],"nice":false,"zero":false},"axis":{"orient":"top","ticks":false,"labels":false,"domain":false,"title":"0","titleX":95,"titleY":-0.6,"titleAlign":"left","titleBaseline":"alphabetic","titleAngle":0,"titleFontSize":11.5,"titleFontWeight":"bold","titleColor":"#111"}},
   "text":{"field":"lab"},"angle":{"condition":[{"test":"datum.lab=='20'","value":-67}],"value":0}}}
 ]},
{"width":190,"height":130.4,
 "title":{"text":"Norovirus","offset":28.7},
 "encoding":{
  "x":{"field":"x","type":"quantitative","scale":{"domain":[-0.025,0.625],"nice":false,"zero":false},"axis":{"values":[0,0.1,0.2,0.3,0.4,0.5,0.6],"labelExpr":"round(datum.value*10)%2==0 ? format(datum.value,'.1f') : ''","title":null,"labelBaseline":"top","labelPadding":14.2,"labelAngle":0,"labelAlign":"center"}},
  "y":{"field":"y","type":"quantitative","scale":{"domain":[-2.0,62.7],"nice":false,"zero":false},"axis":{"values":[0,10,20,30,40,50,60],"labelExpr":"datum.value%20==0 ? datum.label : ''","title":null,"labelAngle":270,"labelAlign":"center","labelBaseline":"alphabetic","labelPadding":14}}},
 "layer":[
  {"data":{"name":"lines"},"transform":[{"filter":"datum.p=='no0'"}],"mark":{"type":"line","interpolate":"monotone","color":"#1e1e1e","strokeWidth":1.25},"encoding":{"detail":{"field":"s"},"order":{"value":null}}},
  {"data":{"name":"labels"},"transform":[{"filter":"datum.p=='no0'"}],"mark":{"type":"text","fontSize":13,"color":"#444","align":"center","baseline":"middle"},"encoding":{"text":{"field":"lab"},"angle":{"condition":[{"test":"datum.lab=='25'","value":-59},{"test":"datum.lab=='20'","value":-37},{"test":"datum.lab=='15'","value":-12}],"value":0}}}
 ]},
{"width":190,"height":130.4,
 "encoding":{
  "x":{"field":"x","type":"quantitative","scale":{"domain":[-0.025,0.625],"nice":false,"zero":false},"axis":{"values":[0,0.1,0.2,0.3,0.4,0.5,0.6],"labelExpr":"round(datum.value*10)%2==0 ? format(datum.value,'.1f') : ''","title":null,"labelBaseline":"top","labelPadding":14.2,"labelAngle":0,"labelAlign":"center"}},
  "y":{"field":"y","type":"quantitative","scale":{"domain":[-2.0,62.7],"nice":false,"zero":false},"axis":{"values":[0,10,20,30,40,50,60],"labelExpr":"datum.value%20==0 ? datum.label : ''","title":"Rate of fomite touching (\u03c1\u209c)","titleAngle":270,"titleX":-57.7,"titleY":53.7,"titleAlign":"center","titleBaseline":"alphabetic","labelAngle":270,"labelAlign":"center","labelBaseline":"alphabetic","labelPadding":14}}},
 "layer":[
  {"data":{"name":"lines"},"transform":[{"filter":"datum.p=='fl'"}],"mark":{"type":"line","interpolate":"monotone","color":"#1e1e1e","strokeWidth":1.25},"encoding":{"detail":{"field":"s"},"order":{"value":null}}},
  {"data":{"name":"labels"},"transform":[{"filter":"datum.p=='fl'"}],"mark":{"type":"text","fontSize":13,"color":"#444","align":"center","baseline":"middle"},"encoding":{"text":{"field":"lab"},"angle":{"condition":[{"test":"datum.lab=='2.2'","value":18},{"test":"datum.lab=='1.8'","value":15},{"test":"datum.lab=='1.4'","value":20},{"test":"datum.lab=='2'","value":9},{"test":"datum.lab=='1.6'","value":6},{"test":"datum.lab=='1.2'","value":7},{"test":"datum.lab=='1'","value":5},{"test":"datum.lab=='0.6'","value":4}],"value":0}}}
 ]},
{"width":190,"height":130.4,
 "resolve":{"scale":{"x":"independent"},"axis":{"x":"independent"}},
 "encoding":{
  "y":{"field":"y","type":"quantitative","scale":{"domain":[-2.0,62.7],"nice":false,"zero":false},"axis":{"values":[0,10,20,30,40,50,60],"labelExpr":"datum.value%20==0 ? datum.label : ''","title":"R","titleAngle":0,"titleX":83.8,"titleY":-19.6,"titleAlign":"left","titleBaseline":"alphabetic","titleFontSize":17,"titleFontWeight":"bold","titleColor":"#111","labelAngle":270,"labelAlign":"center","labelBaseline":"alphabetic","labelPadding":14}}},
 "layer":[
  {"data":{"name":"lines"},"transform":[{"filter":"datum.p=='rhF'"}],"mark":{"type":"line","interpolate":"monotone","color":"#1e1e1e","strokeWidth":1.25},"encoding":{
   "x":{"field":"x","type":"quantitative","scale":{"domain":[-0.025,0.625],"nice":false,"zero":false},"axis":{"orient":"bottom","values":[0,0.1,0.2,0.3,0.4,0.5,0.6],"labelExpr":"round(datum.value*10)%2==0 ? format(datum.value,'.1f') : ''","title":null,"labelBaseline":"top","labelPadding":14.2,"labelAngle":0,"labelAlign":"center"}},
   "detail":{"field":"s"},"order":{"value":null}}},
  {"data":{"name":"labels"},"transform":[{"filter":"datum.p=='rhF'"}],"mark":{"type":"text","fontSize":13,"color":"#444","align":"center","baseline":"middle"},"encoding":{
   "x":{"field":"x","type":"quantitative","scale":{"domain":[-0.025,0.625],"nice":false,"zero":false},"axis":{"orient":"top","ticks":false,"labels":false,"domain":false,"title":"0,F","titleX":95,"titleY":-17.3,"titleAlign":"left","titleBaseline":"alphabetic","titleAngle":0,"titleFontSize":10.5,"titleFontWeight":"bold","titleColor":"#111"}},
   "text":{"field":"lab"},"angle":{"condition":[{"test":"datum.lab=='13'","value":5},{"test":"datum.lab=='12'","value":5},{"test":"datum.lab=='11'","value":3}],"value":0}}}
 ]},
{"width":190,"height":130.4,
 "encoding":{
  "x":{"field":"x","type":"quantitative","scale":{"domain":[-0.025,0.625],"nice":false,"zero":false},"axis":{"values":[0,0.1,0.2,0.3,0.4,0.5,0.6],"labelExpr":"round(datum.value*10)%2==0 ? format(datum.value,'.1f') : ''","title":null,"labelBaseline":"top","labelPadding":14.2,"labelAngle":0,"labelAlign":"center"}},
  "y":{"field":"y","type":"quantitative","scale":{"domain":[-2.0,62.7],"nice":false,"zero":false},"axis":{"values":[0,10,20,30,40,50,60],"labelExpr":"datum.value%20==0 ? datum.label : ''","title":null,"labelAngle":270,"labelAlign":"center","labelBaseline":"alphabetic","labelPadding":14}}},
 "layer":[
  {"data":{"name":"lines"},"transform":[{"filter":"datum.p=='noF'"}],"mark":{"type":"line","interpolate":"monotone","color":"#1e1e1e","strokeWidth":1.25},"encoding":{"detail":{"field":"s"},"order":{"value":null}}},
  {"data":{"name":"labels"},"transform":[{"filter":"datum.p=='noF'"}],"mark":{"type":"text","fontSize":13,"color":"#444","align":"center","baseline":"middle"},"encoding":{"text":{"field":"lab"}}}
 ]},
{"width":190,"height":130.4,
 "encoding":{
  "x":{"field":"x","type":"quantitative","scale":{"domain":[-0.025,0.625],"nice":false,"zero":false},"axis":{"values":[0,0.1,0.2,0.3,0.4,0.5,0.6],"labelExpr":"round(datum.value*10)%2==0 ? format(datum.value,'.1f') : ''","title":null,"labelBaseline":"top","labelPadding":14.2,"labelAngle":0,"labelAlign":"center"}},
  "y":{"field":"y","type":"quantitative","scale":{"domain":[-2.0,62.7],"nice":false,"zero":false},"axis":{"values":[0,10,20,30,40,50,60],"labelExpr":"datum.value%20==0 ? datum.label : ''","title":null,"labelAngle":270,"labelAlign":"center","labelBaseline":"alphabetic","labelPadding":14}}},
 "layer":[
  {"data":{"name":"lines"},"transform":[{"filter":"datum.p=='flH'"}],"mark":{"type":"line","interpolate":"monotone","color":"#1e1e1e","strokeWidth":1.25},"encoding":{"detail":{"field":"s"},"order":{"value":null}}},
  {"data":{"name":"labels"},"transform":[{"filter":"datum.p=='flH'"}],"mark":{"type":"text","fontSize":13,"color":"#444","align":"center","baseline":"middle"},"encoding":{"text":{"field":"lab"},"angle":{"condition":[{"test":"datum.lab=='0.005'","value":-8},{"test":"datum.lab=='0.01'","value":-16},{"test":"datum.lab=='0.015'","value":-20},{"test":"datum.lab=='0.02'","value":-30}],"value":0}}}
 ]},
{"width":190,"height":130.4,
 "resolve":{"scale":{"x":"independent"},"axis":{"x":"independent"}},
 "encoding":{
  "y":{"field":"y","type":"quantitative","scale":{"domain":[-2.0,62.7],"nice":false,"zero":false},"axis":{"values":[0,10,20,30,40,50,60],"labelExpr":"datum.value%20==0 ? datum.label : ''","title":"R","titleAngle":0,"titleX":83.8,"titleY":-19.0,"titleAlign":"left","titleBaseline":"alphabetic","titleFontSize":17,"titleFontWeight":"bold","titleColor":"#111","labelAngle":270,"labelAlign":"center","labelBaseline":"alphabetic","labelPadding":14}}},
 "layer":[
  {"data":{"name":"lines"},"transform":[{"filter":"datum.p=='rhH'"}],"mark":{"type":"line","interpolate":"monotone","color":"#1e1e1e","strokeWidth":1.25},"encoding":{
   "x":{"field":"x","type":"quantitative","scale":{"domain":[-0.025,0.625],"nice":false,"zero":false},"axis":{"orient":"bottom","values":[0,0.1,0.2,0.3,0.4,0.5,0.6],"labelExpr":"round(datum.value*10)%2==0 ? format(datum.value,'.1f') : ''","title":"Proportion of accessible surfaces (\u03bb)","titleX":86.3,"titleY":62.3,"titleAlign":"center","titleBaseline":"alphabetic","labelBaseline":"top","labelPadding":14.2,"labelAngle":0,"labelAlign":"center"}},
   "detail":{"field":"s"},"order":{"value":null}}},
  {"data":{"name":"labels"},"transform":[{"filter":"datum.p=='rhH'"}],"mark":{"type":"text","fontSize":13,"color":"#444","align":"center","baseline":"middle"},"encoding":{
   "x":{"field":"x","type":"quantitative","scale":{"domain":[-0.025,0.625],"nice":false,"zero":false},"axis":{"orient":"top","ticks":false,"labels":false,"domain":false,"title":"0,H","titleX":95,"titleY":-16.6,"titleAlign":"left","titleBaseline":"alphabetic","titleAngle":0,"titleFontSize":10.5,"titleFontWeight":"bold","titleColor":"#111"}},
   "text":{"field":"lab"},"angle":{"condition":[{"test":"datum.lab=='2'","value":-35},{"test":"datum.lab=='4'","value":-58},{"test":"datum.lab=='6'","value":-64},{"test":"datum.lab=='8'","value":-69},{"test":"datum.lab=='10'","value":-73}],"value":0}}}
 ]},
{"width":190,"height":130.4,
 "encoding":{
  "x":{"field":"x","type":"quantitative","scale":{"domain":[-0.025,0.625],"nice":false,"zero":false},"axis":{"values":[0,0.1,0.2,0.3,0.4,0.5,0.6],"labelExpr":"round(datum.value*10)%2==0 ? format(datum.value,'.1f') : ''","title":null,"labelBaseline":"top","labelPadding":14.2,"labelAngle":0,"labelAlign":"center"}},
  "y":{"field":"y","type":"quantitative","scale":{"domain":[-2.0,62.7],"nice":false,"zero":false},"axis":{"values":[0,10,20,30,40,50,60],"labelExpr":"datum.value%20==0 ? datum.label : ''","title":null,"labelAngle":270,"labelAlign":"center","labelBaseline":"alphabetic","labelPadding":14}}},
 "layer":[
  {"data":{"name":"lines"},"transform":[{"filter":"datum.p=='noH'"}],"mark":{"type":"line","interpolate":"monotone","color":"#1e1e1e","strokeWidth":1.25},"encoding":{"detail":{"field":"s"},"order":{"value":null}}},
  {"data":{"name":"labels"},"transform":[{"filter":"datum.p=='noH'"}],"mark":{"type":"text","fontSize":13,"color":"#444","align":"center","baseline":"middle"},"encoding":{"text":{"field":"lab"},"angle":{"condition":[{"test":"datum.lab=='5'","value":-29},{"test":"datum.lab=='10'","value":-56},{"test":"datum.lab=='15'","value":-66},{"test":"datum.lab=='20'","value":-76}],"value":0}}}
 ]}
]
}
